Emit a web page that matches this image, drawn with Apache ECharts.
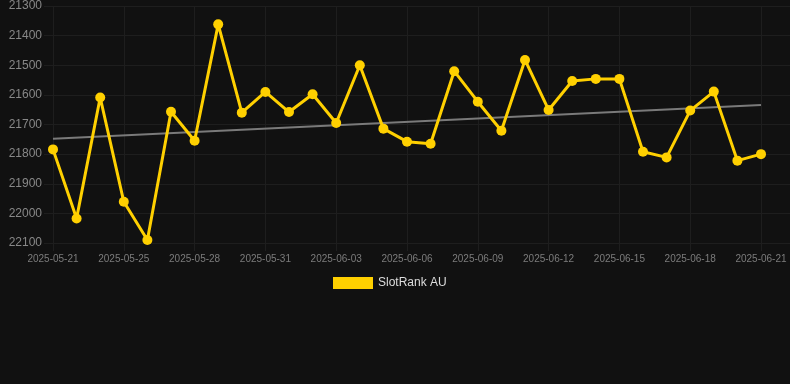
<!DOCTYPE html>
<html>
<head>
<meta charset="utf-8">
<script src="https://cdn.jsdelivr.net/npm/echarts@6/dist/echarts.min.js"></script>
<style>
    html, body { margin: 0; padding: 0; background: #111111; }
    #chart { width: 790px; height: 384px; }
</style>
</head>
<body>
<div id="chart"></div>
<script>
// dates on the x axis (05-24 is not in the data)
var dates = [
    '2025-05-21', '2025-05-22', '2025-05-23', '2025-05-25', '2025-05-26', '2025-05-27',
    '2025-05-28', '2025-05-29', '2025-05-30', '2025-05-31', '2025-06-01', '2025-06-02',
    '2025-06-03', '2025-06-04', '2025-06-05', '2025-06-06', '2025-06-07', '2025-06-08',
    '2025-06-09', '2025-06-10', '2025-06-11', '2025-06-12', '2025-06-13', '2025-06-14',
    '2025-06-15', '2025-06-16', '2025-06-17', '2025-06-18', '2025-06-19', '2025-06-20',
    '2025-06-21'
];
// rank values
var ranks = [
    21784, 22017, 21609, 21961, 22090, 21657, 21755, 21362, 21660, 21590, 21658,
    21598, 21695, 21500, 21714, 21758, 21765, 21520, 21623, 21721, 21482, 21651,
    21553, 21546, 21546, 21792, 21811, 21653, 21589, 21822, 21800
];
// trend line ends (first and last date)
var trendEnds = [21748, 21634];
var seriesName = 'SlotRank AU';

var gridColor = '#1e1e1e';
var myChart = echarts.init(document.getElementById('chart'));
var option = {
    backgroundColor: '#111111',
    animation: false,
    textStyle: { fontFamily: 'Arial, "Liberation Sans", sans-serif' },
    legend: {
        data: [seriesName],
        top: 272,
        left: 328,
        icon: 'rect',
        itemWidth: 40,
        itemHeight: 12,
        textStyle: { color: '#dddddd', fontSize: 12 }
    },
    grid: [
        { left: 53, right: 29, top: 6, bottom: 141 },
        // only for the long horizontal grid lines + y labels
        { left: 44, right: 0, top: 6, bottom: 141 }
    ],
    xAxis: [{
        type: 'category',
        gridIndex: 0,
        data: dates,
        boundaryGap: false,
        axisLine: { show: false },
        axisTick: {
            show: true,
            length: 8,
            interval: 2,
            lineStyle: { color: gridColor }
        },
        axisLabel: {
            interval: 2,
            color: '#7c7c7c',
            fontSize: 10,
            margin: 11
        },
        splitLine: {
            show: true,
            interval: 2,
            lineStyle: { color: gridColor, width: 1 }
        }
    }, {
        type: 'value',
        gridIndex: 1,
        min: 0,
        max: 1,
        show: false
    }],
    yAxis: [{
        type: 'value',
        gridIndex: 0,
        inverse: true,
        min: 21300,
        max: 22100,
        interval: 100,
        axisLabel: { show: false },
        axisLine: { show: false },
        axisTick: { show: false },
        splitLine: { show: false }
    }, {
        type: 'value',
        gridIndex: 1,
        inverse: true,
        min: 21300,
        max: 22100,
        interval: 100,
        axisLine: { show: false },
        axisTick: { show: false },
        axisLabel: {
            color: '#888888',
            fontSize: 12,
            margin: 2,
            formatter: function(v) { return String(v); }
        },
        splitLine: { show: true, lineStyle: { color: gridColor, width: 1 } }
    }],
    series: [{
        name: 'Trend',
        type: 'line',
        xAxisIndex: 0,
        yAxisIndex: 0,
        data: [[dates[0], trendEnds[0]], [dates[dates.length - 1], trendEnds[1]]],
        symbol: 'none',
        silent: true,
        z: 1,
        lineStyle: { color: '#7a7a7a', width: 2 }
    }, {
        name: seriesName,
        type: 'line',
        xAxisIndex: 0,
        yAxisIndex: 0,
        data: ranks,
        symbol: 'circle',
        symbolSize: 10,
        z: 3,
        itemStyle: { color: '#ffd000' },
        lineStyle: { color: '#ffd000', width: 3 }
    }]
};
if (option && typeof option === "object") {
    myChart.setOption(option, true);
}
</script>
</body>
</html>
